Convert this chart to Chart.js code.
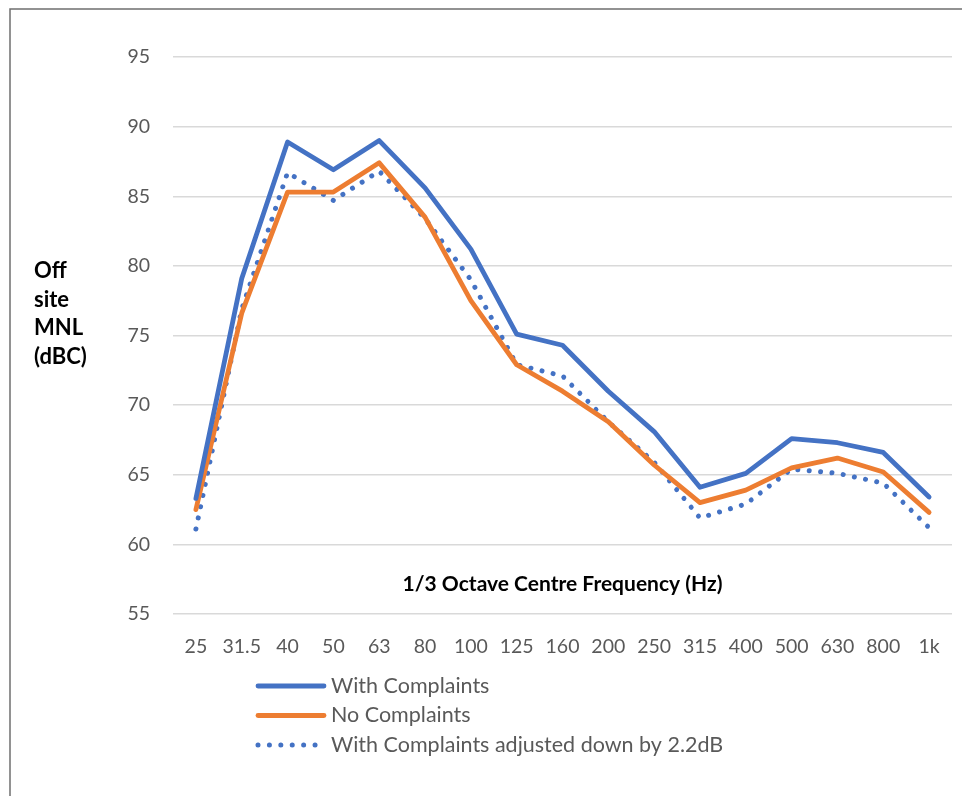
<!DOCTYPE html>
<html>
<head>
<meta charset="utf-8">
<script src="https://cdn.jsdelivr.net/npm/chart.js@4.4.1/dist/chart.umd.min.js"></script>
<style>
  html, body { margin: 0; padding: 0; background: #ffffff; }
  #wrap { position: relative; width: 962px; height: 796px; }
</style>
</head>
<body>
<div id="wrap"><canvas id="chart" width="962" height="796"></canvas></div>
<script>
// 1/3 octave centre frequencies (Hz)
const frequencies = ['25', '31.5', '40', '50', '63', '80', '100', '125', '160', '200', '250', '315', '400', '500', '630', '800', '1k'];

// Off site MNL (dBC)
const withComplaints = [63.3, 79.1, 88.9, 86.9, 89.0, 85.6, 81.2, 75.1, 74.3, 71.0, 68.1, 64.1, 65.1, 67.6, 67.3, 66.6, 63.4];
const noComplaints   = [62.5, 76.6, 85.3, 85.3, 87.4, 83.5, 77.5, 72.9, 71.0, 68.8, 65.7, 63.0, 63.9, 65.5, 66.2, 65.2, 62.3];
const adjustedDown   = [61.1, 76.9, 86.7, 84.7, 86.8, 83.4, 79.0, 72.9, 72.1, 68.8, 65.9, 61.9, 62.9, 65.4, 65.1, 64.4, 61.2];

const seriesNames = ['With Complaints', 'No Complaints', 'With Complaints adjusted down by 2.2dB'];
const yTitleLines = ['Off', 'site', 'MNL', '(dBC)'];
const xTitle = '1/3 Octave Centre Frequency (Hz)';
const yMin = 55, yMax = 95, yStep = 5;

const BLUE = '#4472C4';
const ORANGE = '#ED7D31';
const FONT = 'Lato, "Open Sans", sans-serif';

// Frame, axis titles and the stacked legend
const decorations = {
  id: 'decorations',
  beforeDraw(chart) {
    const ctx = chart.ctx;
    ctx.save();
    ctx.fillStyle = '#ffffff';
    ctx.fillRect(0, 0, chart.width, chart.height);
    ctx.strokeStyle = '#6f6f6f';
    ctx.lineWidth = 1.5;
    ctx.strokeRect(10, 9, chart.width + 20, chart.height + 20);
    ctx.restore();
  },
  afterDraw(chart) {
    const ctx = chart.ctx;
    const area = chart.chartArea;
    ctx.save();
    // y title, stacked words
    ctx.fillStyle = '#000000';
    ctx.font = 'bold 22px ' + FONT;
    ctx.textAlign = 'left';
    ctx.textBaseline = 'middle';
    yTitleLines.forEach((t, i) => ctx.fillText(t, 34, 271 + i * 28.5));
    // x title, sitting inside the plot above the lowest gridline
    ctx.font = 'bold 21px ' + FONT;
    ctx.textAlign = 'center';
    ctx.fillText(xTitle, (area.left + area.right) / 2, 584);
    // legend
    ctx.font = '21.5px ' + FONT;
    ctx.textAlign = 'left';
    chart.data.datasets.forEach((ds, i) => {
      const y = 686 + i * 29.5;
      ctx.beginPath();
      ctx.strokeStyle = ds.borderColor;
      ctx.lineWidth = ds.borderWidth;
      ctx.lineCap = ds.borderCapStyle || 'butt';
      ctx.setLineDash(ds.borderDash || []);
      ctx.moveTo(258, y);
      ctx.lineTo(324, y);
      ctx.stroke();
      ctx.setLineDash([]);
      ctx.fillStyle = '#595959';
      ctx.fillText(ds.label, 331, y);
    });
    ctx.restore();
  }
};

new Chart(document.getElementById('chart'), {
  type: 'line',
  data: {
    labels: frequencies,
    datasets: [
      { label: seriesNames[0], data: withComplaints, borderColor: BLUE, borderWidth: 4.8,
        pointRadius: 0, tension: 0, borderJoinStyle: 'round', borderCapStyle: 'round' },
      { label: seriesNames[1], data: noComplaints, borderColor: ORANGE, borderWidth: 4.8,
        pointRadius: 0, tension: 0, borderJoinStyle: 'round', borderCapStyle: 'round' },
      { label: seriesNames[2], data: adjustedDown, borderColor: BLUE, borderWidth: 5,
        borderDash: [0.01, 11.4], borderCapStyle: 'round', pointRadius: 0, tension: 0 }
    ]
  },
  options: {
    responsive: false,
    animation: false,
    events: [],
    layout: { padding: { left: 0, top: 57, right: 10, bottom: 132 } },
    plugins: {
      legend: { display: false },
      tooltip: { enabled: false },
      title: { display: false }
    },
    scales: {
      x: {
        offset: true,
        grid: { display: false, drawTicks: false },
        border: { display: false },
        ticks: { color: '#595959', font: { family: FONT, size: 19.5 }, padding: 21, maxRotation: 0, autoSkip: false },
        afterFit(scale) { scale.height = 50; }
      },
      y: {
        min: yMin, max: yMax,
        grid: { color: '#d9d9d9', lineWidth: 1.4, drawTicks: false },
        border: { display: false },
        ticks: { stepSize: yStep, color: '#595959', font: { family: FONT, size: 19.5 }, padding: 23 },
        afterFit(scale) { scale.width = 173; }
      }
    }
  },
  plugins: [decorations]
});
</script>
</body>
</html>
